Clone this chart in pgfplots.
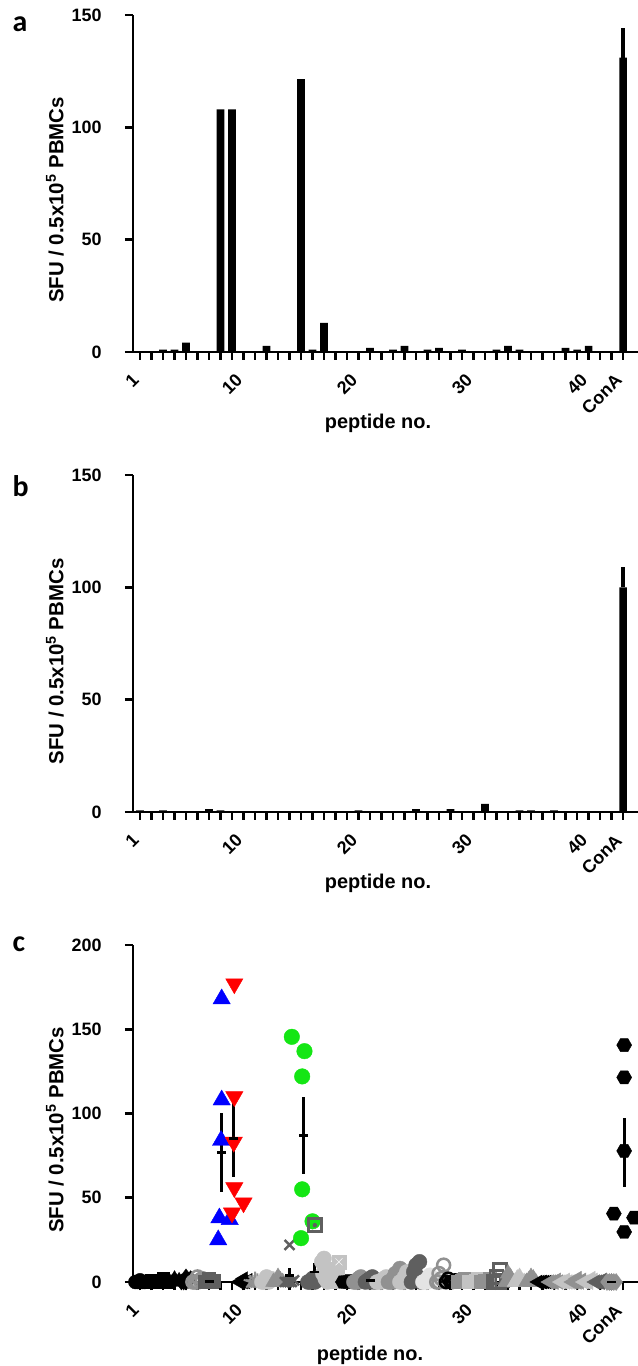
\documentclass[border=0pt]{standalone}
\usepackage{fontspec}
\setmainfont{Liberation Sans}
\newfontfamily\carlito{Carlito}
\usepackage{pgfplots}
\usepackage{pgfplotstable}
\pgfplotsset{compat=1.18}
\usetikzlibrary{plotmarks}

\definecolor{dg}{RGB}{95,95,95}
\definecolor{mg}{RGB}{145,145,145}
\definecolor{lg}{RGB}{195,195,195}
\definecolor{vlg}{RGB}{228,228,228}
\definecolor{pblue}{RGB}{0,0,255}
\definecolor{pred}{RGB}{255,0,0}
\definecolor{pgreen}{RGB}{20,230,20}

\pgfdeclareplotmark{hexagon*}{%
 \pgfpathmoveto{\pgfqpointpolar{0}{\pgfplotmarksize}}%
 \pgfpathlineto{\pgfqpointpolar{60}{\pgfplotmarksize}}%
 \pgfpathlineto{\pgfqpointpolar{120}{\pgfplotmarksize}}%
 \pgfpathlineto{\pgfqpointpolar{180}{\pgfplotmarksize}}%
 \pgfpathlineto{\pgfqpointpolar{240}{\pgfplotmarksize}}%
 \pgfpathlineto{\pgfqpointpolar{300}{\pgfplotmarksize}}%
 \pgfpathclose\pgfusepathqfillstroke}
\pgfdeclareplotmark{ltri*}{%
 \pgfpathmoveto{\pgfqpointpolar{180}{\pgfplotmarksize}}%
 \pgfpathlineto{\pgfqpointpolar{60}{\pgfplotmarksize}}%
 \pgfpathlineto{\pgfqpointpolar{300}{\pgfplotmarksize}}%
 \pgfpathclose\pgfusepathqfillstroke}
\pgfdeclareplotmark{dtri*}{%
 \pgfpathmoveto{\pgfqpointpolar{270}{\pgfplotmarksize}}%
 \pgfpathlineto{\pgfqpointpolar{30}{\pgfplotmarksize}}%
 \pgfpathlineto{\pgfqpointpolar{150}{\pgfplotmarksize}}%
 \pgfpathclose\pgfusepathqfillstroke}
\pgfdeclareplotmark{sqdot}{%
 \pgfpathrectangle{\pgfqpoint{-\pgfplotmarksize}{-\pgfplotmarksize}}{\pgfqpoint{2\pgfplotmarksize}{2\pgfplotmarksize}}%
 \pgfusepathqstroke
 \pgfpathcircle{\pgfpointorigin}{0.35\pgfplotmarksize}\pgfusepathqfill}
\pgfdeclareplotmark{sqx}{%
 \pgfpathrectangle{\pgfqpoint{-\pgfplotmarksize}{-\pgfplotmarksize}}{\pgfqpoint{2\pgfplotmarksize}{2\pgfplotmarksize}}%
 \pgfusepathqfillstroke
 \pgfpathmoveto{\pgfqpoint{-0.5\pgfplotmarksize}{-0.5\pgfplotmarksize}}\pgfpathlineto{\pgfqpoint{0.5\pgfplotmarksize}{0.5\pgfplotmarksize}}%
 \pgfpathmoveto{\pgfqpoint{-0.5\pgfplotmarksize}{0.5\pgfplotmarksize}}\pgfpathlineto{\pgfqpoint{0.5\pgfplotmarksize}{-0.5\pgfplotmarksize}}%
 \pgfsetstrokecolor{white}\pgfusepathqstroke}

% panel a: bars (peptide, SFU)
\pgfplotstableread{
x y
3 1
4 1
5 4.2
8 108
9 108
12 2.7
15 121.5
16 1
17 13
21 1.8
23 1
24 2.7
26 1
27 1.8
29 1
32 1
33 2.7
34 1
38 1.8
39 1
40 2.7
43 131
}\dataA
% panel b
\pgfplotstableread{
x y
1 0.7
3 0.7
7 1.3
8 0.7
20 0.7
25 1.3
28 1.3
31 3.6
34 0.7
35 0.7
37 0.7
43 100
}\dataB
% panel c: individual donors (x jittered around peptide no.)
\pgfplotstableread{
x y c
0.6 0 kc
0.8 0 kc
1.0 0 kc
1.2 0 kc
1.4 0 kc
1.0 1 kc
1.6 0 ks
1.8 0 ks
2.0 0 ks
2.2 0 ks
2.4 0 ks
2.0 1 ks
2.6 0 ks
2.8 0 ks
3.0 0 ks
3.2 0 ks
3.4 0 ks
3.0 2 ks
3.6 0 kt
3.8 0 kt
4.0 0 kt
4.2 0 kt
4.4 1 kt
4.0 2 kt
4.6 0 kd
4.8 0 kd
5.0 0 kd
5.2 1 kd
5.4 2 kd
5.0 3 kd
5.6 0 oc
5.8 0 oc
6.0 0 oc
6.2 1 oc
6.4 2 oc
6.0 3 oc
6.6 0 ds
6.8 0 ds
7.0 0 ds
7.2 0 ds
7.4 1 ds
7.0 2 ds
9.6 0 kl
9.8 0 kl
10.0 0 kl
10.2 0 kl
10.4 1 kl
10.0 2 kl
10.6 0 st
10.8 0 st
11.0 0 st
11.2 1 st
11.4 0 st
11.0 2 st
11.6 0 lc
11.8 0 lc
12.0 1 lc
12.2 0 lc
12.4 2 lc
12.0 3 lc
12.6 0 mt
12.8 0 mt
13.0 0 mt
13.2 1 mt
13.4 0 mt
13.0 3 mt
13.6 0 xx
13.8 0 xx
14.2 0 xx
14.4 1 xx
14.0 0 xx
14.0 22 xx
15.6 0 dc
15.8 0 dc
16.0 2 dc
16.4 1 dc
16.2 0 dc
17.3 0 lc
17.1 2 lc
16.9 5 lc
17.2 8 lc
16.8 12 lc
17.0 14 lc
17.8 0 ls
18.0 0 ls
18.4 0 ls
18.2 3 ls
18.1 8 ls
18.3 12 lsx
18.6 0 kh
18.8 0 kh
19.0 0 kh
19.2 1 kh
19.4 0 kh
19.0 0 kh
19.6 0 mc
19.8 0 mc
20.0 2 mc
20.2 3 mc
20.4 1 mc
20.0 0 mc
20.6 0 dc
20.8 1 dc
21.0 2 dc
21.2 3 dc
21.4 0 dc
21.0 0 dc
21.6 0 lc
21.8 0 lc
22.0 1 lc
22.2 2 lc
22.4 3 lc
22.0 0 lc
22.6 0 mc
22.8 0 mc
23.0 2 mc
23.2 5 mc
23.6 8 mc
23.0 0 mc
23.6 0 lc
23.8 0 lc
24.0 3 lc
24.2 6 lc
24.4 4 lc
24.0 0 lc
24.6 0 dc
25.4 0 dc
25.2 3 dc
24.8 6 dc
25.0 10 dc
25.3 12 dc
25.6 0 vlc
25.8 0 vlc
26.0 2 vlc
26.2 4 vlc
26.4 1 vlc
26.0 0 vlc
26.8 0 mo
27.6 0 mo
27.0 0 mo
27.2 2 mo
27.0 5 mo
27.4 10 mo
27.6 0 ko
27.8 2 ko
28.0 0 ko
28.2 0 ko
28.4 1 ko
28.6 0 ms
28.8 0 ms
29.0 1 ms
29.2 2 ms
29.4 0 ms
29.0 0 ms
29.6 0 ls
29.8 0 ls
30.0 0 ls
30.2 1 ls
30.4 2 ls
30.0 0 ls
30.6 0 ms
30.8 0 ms
31.0 1 ms
31.2 0 ms
31.4 2 ms
31.0 0 ms
31.8 0 dso
32.2 0 dso
32.5 1 dso
32.0 3 dso
32.3 7 dso
32.0 0 dso
32.8 0 mt
33.4 0 mt
33.1 2 mt
33.2 3 mt
33.0 5 mt
33.0 0 mt
33.6 0 lt
33.8 2 lt
34.0 3 lt
34.2 0 lt
34.4 0 lt
34.0 0 lt
34.6 0 mt
34.8 1 mt
35.0 3 mt
35.2 2 mt
35.4 0 mt
35.0 0 mt
35.6 0 kl
35.8 0 kl
36.0 0 kl
36.2 0 kl
36.4 0 kl
36.0 0 kl
36.6 0 ml
36.8 0 ml
37.0 0 ml
37.2 1 ml
37.4 0 ml
37.0 0 ml
37.6 0 ll
37.8 0 ll
38.0 1 ll
38.2 0 ll
38.4 0 ll
38.0 0 ll
38.6 0 ml
38.8 0 ml
39.0 2 ml
39.2 0 ml
39.4 1 ml
39.0 0 ml
39.6 0 ll
39.8 0 ll
40.0 0 ll
40.2 2 ll
40.4 1 ll
40.0 0 ll
40.6 0 dl
40.8 0 dl
41.0 0 dl
41.2 1 dl
41.4 0 dl
41.0 0 dl
41.6 0 md
41.8 0 md
42.0 0 md
42.2 0 md
42.4 0 md
42.0 0 md
8.1 168 bt
8.1 108 bt
8.05 84 bt
7.9 38 bt
8.8 37 bt
7.8 25 bt
9.2 177 rt
9.2 110 rt
9.15 83 rt
9.2 56 rt
9.0 41 rt
10.0 47 rt
14.2 145.5 gc
15.3 137 gc
15.1 122 gc
15.1 55 gc
16.0 36 gc
15.0 26 gc
16.2 33.7 sqd
43.1 140.6 hx
43.1 121.4 hx
43.1 77.8 hx
42.2 40.6 hx
43.95 38.2 hx
43.1 29.7 hx
}\dataC
% panel c: mean +- SEM
\pgfplotstableread{
x y e
7.0 0.5 0.4
8.1 77 23.5
9.15 85 22.5
14.0 4 4.5
15.2 87 23
16.2 6 5.5
21.0 1 0.6
42.0 0 0
43.1 77 20.5
}\meanC

\pgfplotsset{panel/.style={
  scale only axis, width=505bp, height=337bp,
  axis x line=bottom, axis y line=left,
  axis line style={line width=2.7bp, -},
  xmin=0.39, xmax=44.3, ymin=0,
  xtick={1,10,20,30,40,43},
  xticklabels={1,10,20,30,40,ConA\hspace{9bp}},
  minor xtick={1,...,43},
  tick align=outside, major tick length=8bp, minor tick length=8bp,
  major tick style={line width=2.7bp, black},
  minor tick style={line width=2.7bp, black},
  tick label style={font=\fontsize{18}{18}\selectfont\bfseries},
  /pgf/number format/assume math mode=true,
  x tick label style={yshift=-15bp, xshift=-2bp, rotate=45, anchor=east},
  yticklabel style={anchor=east, xshift=-20bp},
  clip=false,
}}

\begin{document}
\begin{tikzpicture}
\path[use as bounding box] (0bp,0bp) rectangle (638bp,1366bp);

% ---------- panel a
\begin{axis}[panel, at={(133bp,1014bp)}, anchor=south west, ymax=150, ytick={0,50,100,150},
  yticklabels={0\hspace{-6bp},50,100,150}]
\addplot[ybar, bar width=7.6bp, fill=black, draw=none] table[x=x,y=y] {\dataA};
\addplot[draw=none, mark=none, forget plot, error bars/.cd, y dir=plus, y explicit, error mark=none,
  error bar style={line width=3.5bp, black}] coordinates {(43,131) +- (0,13)};
\end{axis}

% ---------- panel b
\begin{axis}[panel, at={(133bp,554bp)}, anchor=south west, ymax=150, ytick={0,50,100,150},
  yticklabels={0\hspace{-6bp},50,100,150}]
\addplot[ybar, bar width=7.6bp, fill=black, draw=none] table[x=x,y=y] {\dataB};
\addplot[draw=none, mark=none, forget plot, error bars/.cd, y dir=plus, y explicit, error mark=none,
  error bar style={line width=3.5bp, black}] coordinates {(43,100) +- (0,9)};
\end{axis}

% ---------- panel c
\begin{axis}[panel, at={(133bp,84bp)}, anchor=south west, ymax=200, ytick={0,50,100,150,200},
  yticklabels={0\hspace{-6bp},50,100,150,200}]
\addplot[scatter, only marks, point meta=explicit symbolic,
  scatter/classes={
    kc={mark=*, black, mark size=7bp},
    ks={mark=square*, black, mark size=6bp},
    kt={mark=triangle*, black, mark size=8bp},
    kd={mark=diamond*, black, mark size=8bp},
    kl={mark=ltri*, black, mark size=8bp},
    kh={mark=hexagon*, black, mark size=7bp},
    ko={mark=o, black, mark size=6bp, line width=2.5bp},
    oc={mark=o, mg, mark size=6.5bp, line width=2.5bp},
    mo={mark=o, mg, mark size=6.5bp, line width=2.5bp},
    ds={mark=square*, dg, mark size=6.5bp},
    dso={mark=square, dg, mark size=6.5bp, line width=2.5bp},
    ms={mark=square*, mg, mark size=6.5bp},
    ls={mark=square*, lg, mark size=6.5bp},
    lsx={mark=sqx, lg, mark size=7bp},
    dc={mark=*, dg, mark size=7.5bp},
    mc={mark=*, mg, mark size=7.5bp},
    lc={mark=*, lg, mark size=7.5bp},
    vlc={mark=*, vlg, mark size=7.5bp},
    st={mark=star, mg, mark size=7bp, line width=2bp},
    mt={mark=triangle*, mg, mark size=9bp},
    lt={mark=triangle*, lg, mark size=9bp},
    ml={mark=ltri*, mg, mark size=8.5bp},
    ll={mark=ltri*, lg, mark size=8.5bp},
    dl={mark=ltri*, dg, mark size=8.5bp},
    md={mark=diamond*, mg, mark size=8.5bp},
    xx={mark=x, dg, mark size=7bp, line width=2.5bp},
    bt={mark=triangle*, pblue, mark size=10bp},
    rt={mark=dtri*, pred, mark size=10bp},
    gc={mark=*, pgreen, mark size=7.8bp},
    sqd={mark=sqdot, dg, mark size=6.5bp, line width=2.5bp},
    hx={mark=hexagon*, black, mark size=7.5bp}}]
  table[x=x, y=y, meta=c] {\dataC};
\addplot[only marks, mark=-, mark size=4.5bp, mark options={line width=2.7bp, black},
  error bars/.cd, y dir=both, y explicit, error mark=none,
  error bar style={line width=3bp, black}]
  table[x=x, y=y, y error=e] {\meanC};
\end{axis}

% ---------- labels
\node[anchor=base west, font=\carlito\bfseries\fontsize{30}{30}\selectfont] at (9bp,1334bp) {a};
\node[anchor=base west, font=\carlito\bfseries\fontsize{30}{30}\selectfont] at (9bp,869bp) {b};
\node[anchor=base west, font=\carlito\bfseries\fontsize{30}{30}\selectfont] at (9bp,414bp) {c};

\node[rotate=90, font=\bfseries\fontsize{20.5}{20.5}\selectfont] at (55bp,1166bp) {SFU / 0.5x10\textsuperscript{5} PBMCs};
\node[rotate=90, font=\bfseries\fontsize{20.5}{20.5}\selectfont] at (55bp,704.5bp) {SFU / 0.5x10\textsuperscript{5} PBMCs};
\node[rotate=90, font=\bfseries\fontsize{20.5}{20.5}\selectfont] at (55bp,236bp) {SFU / 0.5x10\textsuperscript{5} PBMCs};

\node[font=\bfseries\fontsize{20}{20}\selectfont] at (378bp,943bp) {peptide no.};
\node[font=\bfseries\fontsize{20}{20}\selectfont] at (378bp,483bp) {peptide no.};
\node[font=\bfseries\fontsize{20}{20}\selectfont] at (370bp,11bp) {peptide no.};
\end{tikzpicture}
\end{document}
